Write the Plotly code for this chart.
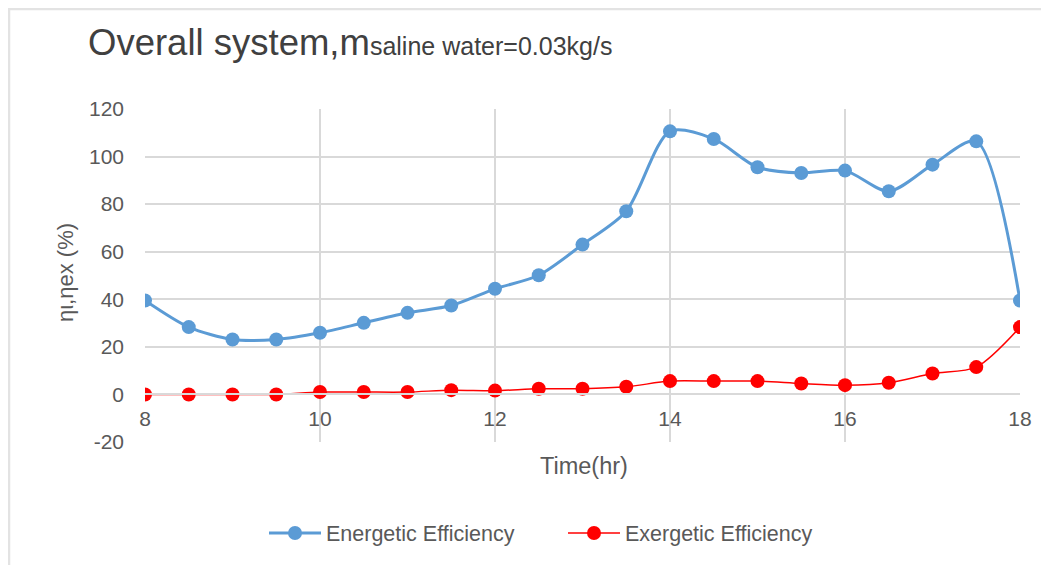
import plotly.graph_objects as go

time_hr = [8, 8.5, 9, 9.5, 10, 10.5, 11, 11.5, 12, 12.5, 13, 13.5, 14, 14.5, 15, 15.5, 16, 16.5, 17, 17.5, 18]
energetic = [39.5, 28.3, 23.1, 23.1, 25.9, 30.1, 34.3, 37.4, 44.4, 50.1, 63, 77, 110.6, 107.4, 95.5, 93.1, 94.1, 85.4, 96.6, 106.4, 39.5]
exergetic = [0, 0, 0, 0, 1, 1, 1, 1.8, 1.6, 2.4, 2.4, 3.2, 5.6, 5.6, 5.6, 4.6, 3.9, 4.9, 8.8, 11.5, 28.3]

x_ticks = [8, 10, 12, 14, 16, 18]
y_ticks = [-20, 0, 20, 40, 60, 80, 100, 120]

FONT = "Liberation Sans, Arial, sans-serif"
TXT = "#595959"
GRID = "#d9d9d9"

# page body has an 8px margin; work in reference pixel coords minus offset
OX, OY = 8, 8
W, H = 1049 - OX, 565 - OY

fig = go.Figure()
fig.add_trace(go.Scatter(
    x=time_hr, y=energetic, name="Energetic Efficiency",
    mode="lines+markers", line=dict(color="#5B9BD5", width=3, shape="spline", smoothing=0.8),
    marker=dict(color="#5B9BD5", size=14),
))
fig.add_trace(go.Scatter(
    x=time_hr, y=exergetic, name="Exergetic Efficiency",
    mode="lines+markers", line=dict(color="#FF0000", width=1.5, shape="spline", smoothing=0.8),
    marker=dict(color="#FF0000", size=14),
))

# plot area in reference pixels: x 145..1020, y 109..442
L = 145 - OX
R = 1049 - 1020
T = 109 - OY
B = 565 - 442
pw = W - L - R
ph = H - T - B


def px(xr):
    return (xr - 145) / pw


def py(yr):
    return (442 - yr) / ph


fig.update_layout(
    width=W, height=H,
    margin=dict(l=L, r=R, t=T, b=B, pad=0),
    paper_bgcolor="white", plot_bgcolor="white",
    font=dict(family=FONT, color=TXT),
    title=dict(
        text="Overall system,m<span style='font-size:25px'>saline water=0.03kg/s</span>",
        x=(88 - OX) / W, xref="container", xanchor="left",
        y=1 - (42 - OY) / H, yref="container", yanchor="middle",
        font=dict(family=FONT, size=36.5, color="#404040"),
    ),
    xaxis=dict(
        range=[8, 18], tickvals=x_ticks, ticktext=[str(v) for v in x_ticks],
        showgrid=True, gridcolor=GRID, gridwidth=1.5,
        anchor="free", position=20 / 140,
        showline=True, linecolor=GRID, linewidth=1.5,
        zeroline=False, ticks="", ticklabelstandoff=6,
        tickfont=dict(family=FONT, size=21, color=TXT),
    ),
    yaxis=dict(
        range=[-20, 120], tickvals=y_ticks, ticktext=[str(v) for v in y_ticks],
        showgrid=True, gridcolor=GRID, gridwidth=1.5,
        zeroline=False, showline=False, ticks="", ticklabelstandoff=20,
        tickfont=dict(family=FONT, size=21, color=TXT),
    ),
    showlegend=True,
    legend=dict(
        orientation="h", xref="container", x=(563 - OX) / W, xanchor="center",
        yref="container", y=1 - (533 - OY) / H, yanchor="middle",
        font=dict(family=FONT, size=21.5, color=TXT),
        itemwidth=52, entrywidthmode="pixels", entrywidth=232,
    ),
    annotations=[
        dict(text="Time(hr)", xref="paper", yref="paper",
             x=px(584), y=py(466), showarrow=False,
             xanchor="center", yanchor="middle",
             font=dict(family=FONT, size=23.5, color=TXT)),
        dict(text="ηι,ηex (%)", xref="paper", yref="paper",
             x=px(65), y=py(273), showarrow=False,
             textangle=-90, xanchor="center", yanchor="middle",
             font=dict(family=FONT, size=22, color=TXT)),
    ],
    shapes=[
        dict(type="rect", xref="paper", yref="paper",
             x0=px(9), x1=px(1049 + 20),
             y0=py(565 + 20), y1=py(9),
             line=dict(color="#e3e3e3", width=2.5), layer="below"),
    ],
)

fig.write_html("out.html")
